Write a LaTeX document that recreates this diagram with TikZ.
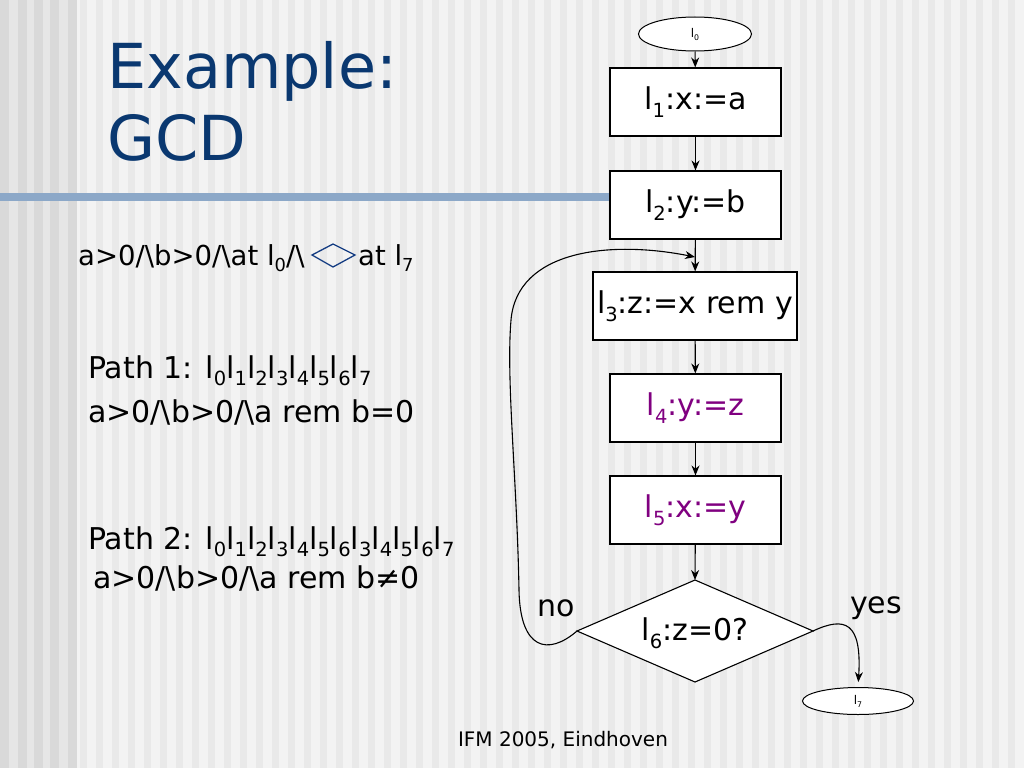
\documentclass[tikz,border=0pt]{standalone}
\usepackage{fontspec}
\usepackage{graphicx}
\setmainfont{DejaVu Sans}
\usetikzlibrary{shapes.geometric,arrows.meta}
\definecolor{titleblue}{RGB}{10,56,112}
\definecolor{barblue}{RGB}{140,168,200}
\definecolor{bgA}{RGB}{243,243,243}
\definecolor{bgB}{RGB}{233,233,233}
\definecolor{bgL}{RGB}{230,230,230}
\definecolor{bgD}{RGB}{217,217,217}
\definecolor{purp}{RGB}{128,0,128}
\definecolor{diamblue}{RGB}{20,60,130}
\newcommand{\lsub}[1]{l\raisebox{-0.25em}{\scalebox{0.65}{#1}}}
\begin{document}
\begin{tikzpicture}[x=1pt,y=-1pt,
  box/.style={draw=black, fill=white, minimum height=68pt, inner sep=0pt, line width=1.1pt, font=\fontsize{30}{36}\selectfont},
  term/.style={ellipse, draw=black, fill=white, inner sep=0pt, line width=1pt, font=\fontsize{12}{14}\selectfont},
  arr/.style={-{Stealth[length=10pt,width=8pt]}, line width=1.1pt},
  txt/.style={anchor=base west, inner sep=0pt, font=\fontsize{30}{36}\selectfont},
  ttl/.style={anchor=base west, inner sep=0pt, text=titleblue, font=\fontsize{62}{70}\selectfont}]
\useasboundingbox (0,0) rectangle (1024,768);
% background
\fill[bgA] (0,0) rectangle (1024,768);
\fill[bgL] (0,0) rectangle (77,768);
\foreach \x in {0,18,34,50,68} \fill[bgD] (\x,0) rectangle ++(9,768);
\foreach \x in {80,96,...,1016} \fill[bgB] (\x,0) rectangle ++(7,768);
% title and bar
\node[ttl] (t1) at (107,88) {Example:};
\node[ttl] (t2) at (107,160) {GCD};
\fill[barblue] (0,193) rectangle (612,201);
% flowchart
\node[term, minimum width=113pt, minimum height=34pt] (l0) at (695,34) {\lsub0};
\node[box, minimum width=171pt] (l1) at (695.5,102) {\lsub1:x:=a};
\node[box, minimum width=171pt] (l2) at (695.5,205) {\lsub2:y:=b};
\node[box, minimum width=204pt] (l3) at (695,306) {\lsub3:z:=x rem y};
\node[box, minimum width=171pt, text=purp] (l4) at (695.5,408) {\lsub4:y:=z};
\node[box, minimum width=171pt, text=purp] (l5) at (695.5,510) {\lsub5:x:=y};
\coordinate (dT) at (695,580);
\coordinate (dR) at (813,631);
\coordinate (dB) at (695,682);
\coordinate (dL) at (577,631);
\draw[fill=white, line width=1.1pt] (dT) -- (dR) -- (dB) -- (dL) -- cycle;
\node[inner sep=0pt, font=\fontsize{30}{36}\selectfont] (l6) at (695,633) {\lsub6:z=0?};
\node[term, minimum width=111pt, minimum height=27pt] (l7) at (858,701) {\lsub7};
\coordinate (j) at (695,257);
\draw[arr] (l0) -- (l1);
\draw[arr] (l1) -- (l2);
\draw[arr] (l2) -- (l3);
\draw[arr] (l3) -- (l4);
\draw[arr] (l4) -- (l5);
\draw[arr] (l5) -- (dT);
\draw[arr] (dL) .. controls (548,656) and (520,650) .. (519,590)
  .. controls (517,480) and (506,380) .. (511,320)
  .. controls (517,250) and (610,240) .. (j);
\draw[arr, shorten >=5pt] (dR) .. controls (845,616) and (862,622) .. (l7.north);
\node[inner sep=0pt, font=\fontsize{30}{36}\selectfont] (no) at (556,608) {no};
\node[inner sep=0pt, font=\fontsize{30}{36}\selectfont] (yes) at (876,608) {yes};
% left texts
\node[txt, font=\fontsize{27.5}{33}\selectfont] (c1) at (78,265) {a>0/\textbackslash b>0/\textbackslash at \lsub0/\textbackslash};
\draw[diamblue, line width=1.3pt] (312,255) -- (333,244) -- (355,255) -- (333,267) -- cycle;
\node[txt, font=\fontsize{27.5}{33}\selectfont] (c2) at (358,265) {at \lsub7};
\node[txt] (p1) at (88,378) {Path 1: \lsub0\lsub1\lsub2\lsub3\lsub4\lsub5\lsub6\lsub7};
\node[txt] (p2) at (88,422) {a>0/\textbackslash b>0/\textbackslash a rem b=0};
\node[txt] (p3) at (88,549) {Path 2: \lsub0\lsub1\lsub2\lsub3\lsub4\lsub5\lsub6\lsub3\lsub4\lsub5\lsub6\lsub7};
\node[txt] (p4) at (93,588) {a>0/\textbackslash b>0/\textbackslash a rem b≠0};
\node[inner sep=0pt, font=\fontsize{20}{24}\selectfont] (foot) at (563,740) {IFM 2005, Eindhoven};
\end{tikzpicture}
\end{document}
